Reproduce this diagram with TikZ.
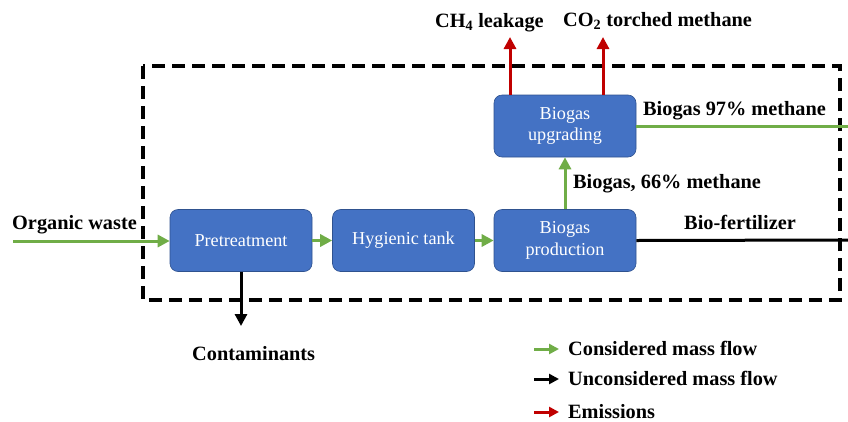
\documentclass[tikz,border=0pt]{standalone}
\usepackage{fontspec}
\setmainfont{Liberation Serif}
\usetikzlibrary{arrows.meta}
\definecolor{boxblue}{HTML}{4472C4}
\definecolor{boxedge}{HTML}{2F528F}
\definecolor{flowgreen}{HTML}{70AD47}
\definecolor{emred}{HTML}{C00000}
\begin{document}
\begin{tikzpicture}[x=1pt,y=-1pt,
  proc/.style={draw=boxedge, line width=0.6pt, fill=boxblue, rounded corners=8pt,
    text=white, font=\fontsize{18.2}{21.5}\selectfont, align=center,
    minimum width=142pt, minimum height=62pt, inner sep=0pt},
  lbl/.style={font=\fontsize{20.3}{22}\selectfont\bfseries, inner sep=0pt},
  tipbig/.style={-{Triangle[length=12pt,width=12pt]}},
  gflow/.style={draw=flowgreen, line width=3pt},
  kflow/.style={draw=black, line width=3pt},
  rflow/.style={draw=emred, line width=3pt},
  legtip/.style={-{Triangle[length=10pt,width=10pt]}},
  sysbound/.style={draw=black, line width=4pt, dash pattern=on 13pt off 7pt}
]
\useasboundingbox (0,0) rectangle (848,421);
\fill[white] (0,0) rectangle (848,421);

% system boundary
\draw[sysbound] (143,66) rectangle (840,300);

% process boxes
\node[proc] (pre) at (241,240.5) {Pretreatment};
\node[proc] (hyg) at (403.5,240.5) {Hygienic tank};
\node[proc] (prod) at (565,240.5) {Biogas\\production};
\node[proc] (upg) at (565,126) {Biogas\\upgrading};

% free ends
\coordinate (inflow) at (13,241);
\coordinate (ch4top) at (510,37);
\coordinate (co2top) at (603,37);
\coordinate (out97) at (848,126);
\coordinate (outbf) at (848,240);
\coordinate (contend) at (241,326);

% connectors
\draw[gflow,tipbig] (inflow) -- (inflow -| pre.west);
\draw[gflow,tipbig] (pre.east) -- (hyg.west);
\draw[gflow,tipbig] (hyg.east) -- (prod.west);
\draw[gflow,tipbig] (prod.north) -- (upg.south);
\draw[gflow] (upg.east) -- (out97);
\draw[kflow] (prod.east) -- (outbf);
\draw[kflow,tipbig] (pre.south) -- (contend);
\draw[rflow,tipbig] (ch4top |- upg.north) -- (ch4top);
\draw[rflow,tipbig] (co2top |- upg.north) -- (co2top);

% labels
\node[lbl, anchor=base west] (ow) at (12,229) {Organic waste};
\node[lbl, anchor=base west] (ch4) at (435,27) {CH\textsubscript{4} leakage};
\node[lbl, anchor=base west] (co2) at (563,26) {CO\textsubscript{2} torched methane};
\node[lbl, anchor=base west] (b97) at (643,115) {Biogas 97\% methane};
\node[lbl, anchor=base west] (b66) at (573,188) {Biogas, 66\% methane};
\node[lbl, anchor=base west] (bf) at (684,229) {Bio-fertilizer};
\node[lbl, anchor=base west] (cont) at (192,360) {Contaminants};

% legend
\coordinate (lg1a) at (534,349); \coordinate (lg1b) at (559,349);
\coordinate (lg2a) at (534,379); \coordinate (lg2b) at (559,379);
\coordinate (lg3a) at (534,412); \coordinate (lg3b) at (559,412);
\draw[gflow,legtip] (lg1a) -- (lg1b);
\draw[kflow,legtip] (lg2a) -- (lg2b);
\draw[rflow,legtip] (lg3a) -- (lg3b);
\node[lbl, anchor=base west] (l1) at (568,355) {Considered mass flow};
\node[lbl, anchor=base west] (l2) at (568,385) {Unconsidered mass flow};
\node[lbl, anchor=base west] (l3) at (568,418) {Emissions};
\end{tikzpicture}
\end{document}
